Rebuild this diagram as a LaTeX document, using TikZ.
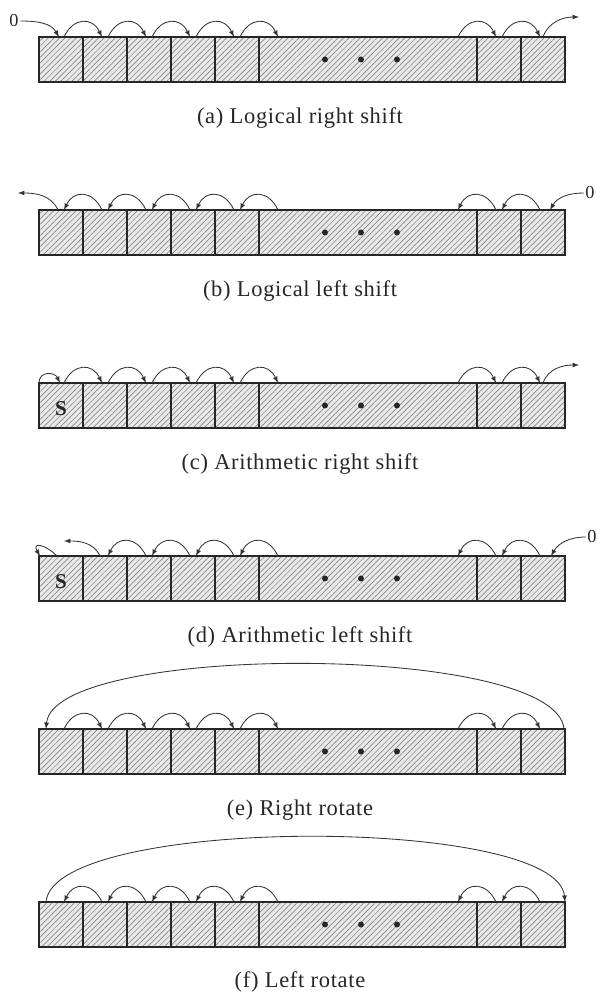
\documentclass[tikz,border=0pt]{standalone}
\usepackage{fontspec}
\setmainfont{Liberation Serif}
\newfontfamily\capfont[LetterSpace=3]{Liberation Serif}
\usetikzlibrary{patterns.meta}

\newcommand*{\cellbounds}{83,127,171,215,259,477,521}
\newcommand*{\innerbounds}{127,171,215,259,477,521}
\newcommand*{\dotxs}{325,361,397}

% register with hatched cells, #1 = top edge
\newcommand*{\register}[1]{%
  \fill[cellfill] (39,#1) rectangle (565,#1-45);
  \fill[hatch] (39,#1) rectangle (565,#1-45);
  \foreach \b in \cellbounds
    \draw[cellline] (\b,#1) -- (\b,#1-45);
  \draw[cellline] (39,#1) rectangle (565,#1-45);
  \foreach \d in \dotxs
    \fill[black!85] (\d,#1-22.5) circle (3);
}

% one-place hops over the cell borders, #2 = top edge
\newcommand*{\hopsright}[2][\cellbounds]{%
  \foreach \b in #1
    \draw[hop] (\b-19,#2) to[out=65,in=115] (\b+19,#2);
}
\newcommand*{\hopsleft}[2][\cellbounds]{%
  \foreach \b in #1
    \draw[hop] (\b+19,#2) to[out=115,in=65] (\b-19,#2);
}

\begin{document}
\begin{tikzpicture}
[
	x=0.025cm,
	y=0.025cm,
	cellfill/.style={fill=gray!18},
	hatch/.style={pattern={Lines[angle=45,distance=2.8pt,line width=0.35pt]},pattern color=black!55},
	cellline/.style={draw=black!85,line width=1.1pt},
	hop/.style={-latex,draw=black!80,line width=0.6pt,looseness=1.5},
	caption/.style={font=\fontsize{16}{19}\capfont,text=black!85},
	bitlabel/.style={font=\fontsize{13}{15}\selectfont,text=black!85,inner sep=1pt},
	signbit/.style={font=\fontsize{15}{18}\selectfont\bfseries,text=black!85,inner sep=1pt}
]

	\useasboundingbox (0,0) rectangle (600,994);

	% (a) logical right shift
	\register{957}
	\hopsright{957}
	\node[bitlabel] (zeroa) at (14,973) {0};
	\draw[hop] (zeroa.east) to[out=0,in=120,looseness=1] (59,957);
	\draw[hop] (543,957) to[out=70,in=180,looseness=1] (579,977);
	\node[caption] (capa) at (300,876) {(a) Logical right shift};

	% (b) logical left shift
	\register{784}
	\hopsleft{784}
	\draw[hop] (58,784) to[out=115,in=0,looseness=1] (18,801);
	\node[bitlabel] (zerob) at (590,801) {0};
	\draw[hop] (zerob.west) to[out=180,in=60,looseness=1] (550,784);
	\node[caption] (capb) at (300,703) {(b) Logical left shift};

	% (c) arithmetic right shift
	\register{611}
	\hopsright{611}
	\node[signbit] (signc) at (61,585) {S};
	\draw[hop] (39,611) to[out=90,in=115] (60,611);
	\draw[hop] (543,611) to[out=70,in=180,looseness=1] (579,629);
	\node[caption] (capc) at (300,530) {(c) Arithmetic right shift};

	% (d) arithmetic left shift
	\register{438}
	\hopsleft[\innerbounds]{438}
	\node[signbit] (signd) at (61,412) {S};
	\draw[hop] (57,438) to[out=135,in=120,looseness=2.5] (40,438);
	\draw[hop] (100,438) to[out=115,in=0,looseness=1] (64,453);
	\node[bitlabel] (zerod) at (592,457) {0};
	\draw[hop] (zerod.west) to[out=180,in=60,looseness=1] (551,438);
	\node[caption] (capd) at (300,357) {(d) Arithmetic left shift};

	% (e) right rotate
	\register{265}
	\hopsright{265}
	\draw[hop] (564,265) to[out=95,in=85,looseness=0.43] (46,265);
	\node[caption] (cape) at (300,184) {(e) Right rotate};

	% (f) left rotate
	\register{92}
	\hopsleft{92}
	\draw[hop] (46,92) to[out=85,in=95,looseness=0.43] (565,92);
	\node[caption] (capf) at (300,12) {(f) Left rotate};

\end{tikzpicture}
\end{document}
